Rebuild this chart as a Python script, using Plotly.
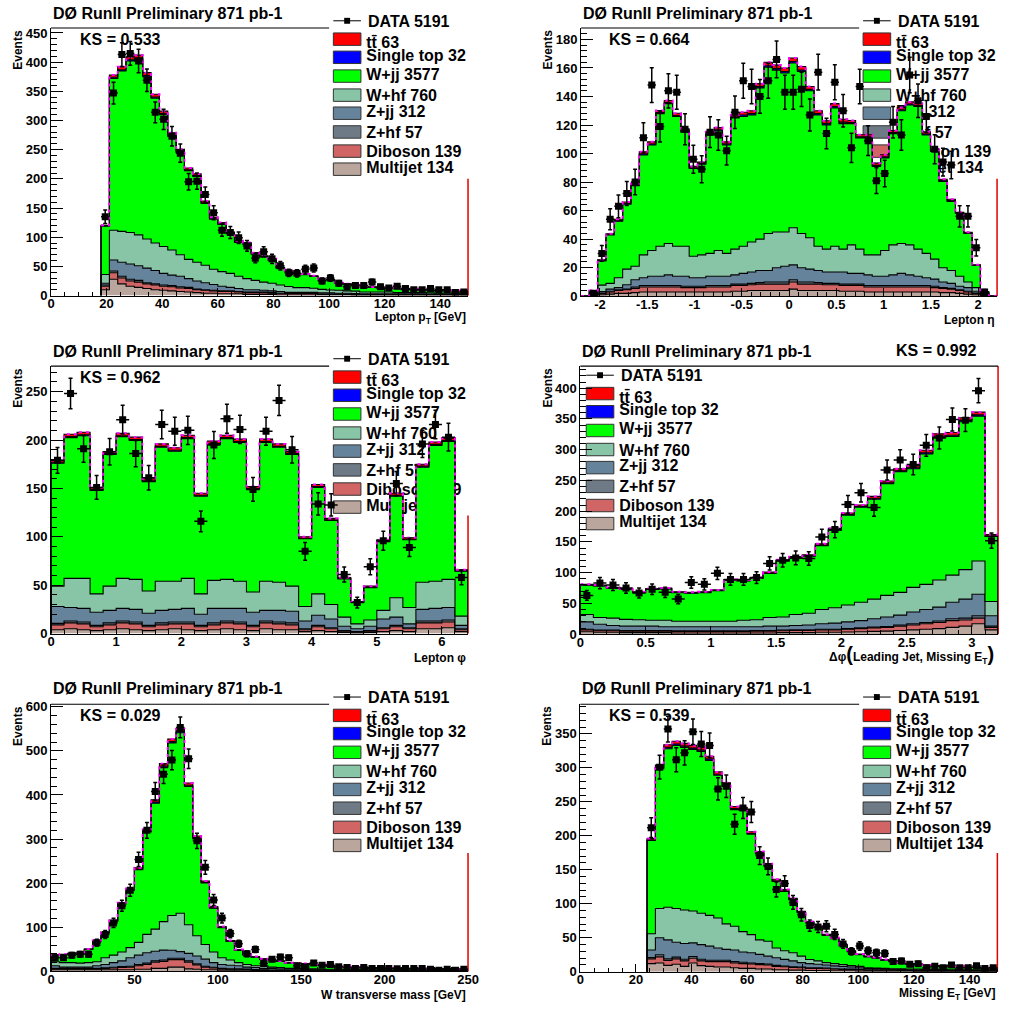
import numpy as np
import plotly.graph_objects as go

FIG_W, FIG_H = 1013, 1017
FONT = "Liberation Sans, Arial, Helvetica, sans-serif"

TITLE = "DØ RunII Preliminary 871 pb-1"
DATA_LABEL = "DATA 5191"
LEGEND_LABELS = ["tt\u0304 63", "Single top 32", "W+jj 3577", "W+hf 760",
                 "Z+jj 312", "Z+hf 57", "Diboson 139", "Multijet 134"]

# fill colours, stacking order bottom -> top
STACK_KEYS = ["multijet", "diboson", "zhf", "zjj", "whf", "wjj", "stop", "ttbar"]
COLORS = {"ttbar": "#ff0000", "stop": "#0000ff", "wjj": "#00ff00", "whf": "#88c4a6",
          "zjj": "#66839c", "zhf": "#6e7a86", "diboson": "#d16464", "multijet": "#bba69e"}
LEGEND_KEYS = ["ttbar", "stop", "wjj", "whf", "zjj", "zhf", "diboson", "multijet"]

# ---------------- Lepton pT (3 GeV bins, 18-150 GeV) ----------------
pt_data = [135, 347, 413, 415, 402, 369, 314, 302, 273, 244, 195, 196, 173, 142, 112, 108, 99, 85, 64, 75,
           63, 51, 39, 38, 45, 47, 25, 30, 21, 15, 17, 17, 23, 15, 13, 16, 12, 10, 10, 12, 10, 10, 5, 6]
pt_multijet = [10, 28, 20, 16, 14, 12, 10, 9, 8, 7, 6, 5, 4, 4, 3, 3, 3, 2, 2, 2, 2, 1, 1, 1, 1, 1, 1, 1, 1, 1,
               0.5, 0.5, 0.5, 0.5, 0.5, 0.5, 0.5, 0.5, 0.5, 0.5, 0.5, 0.5, 0.5, 0.5]
pt_diboson = [6, 11, 10, 9, 9, 8, 8, 7, 7, 6, 6, 5, 5, 4, 4, 4, 3, 3, 3, 3, 2, 2, 2, 2, 2, 2,
              1, 1, 1, 1, 1, 1, 1, 1, 1, 1, 1, 1, 1, 1, 1, 1, 1, 1]
pt_zhf = [2, 3, 3, 3, 3, 2, 2, 2, 2, 2, 2, 1, 1, 1, 1, 1, 1, 1, 1, 1, 1, 1,
          0.5, 0.5, 0.5, 0.5, 0.5, 0.5, 0.5, 0.5, 0.5, 0.5, 0.5, 0.5, 0.5, 0.5, 0.5, 0.5, 0.5, 0.5, 0.5, 0.5, 0.5, 0.5]
pt_zjj = [3, 19, 24, 26, 25, 25, 23, 20, 18, 18, 15, 14, 12, 10, 8, 6, 5, 4, 4, 3, 3, 3, 2, 2, 2, 2, 2, 2,
          1.5, 1.5, 1.5, 1, 1, 1, 1, 1, 1, 1, 0.5, 0.5, 0.5, 0.5, 0.5, 0.5]
pt_whf = [15, 51, 53, 54, 53, 50, 47, 46, 43, 37, 33, 32, 30, 26, 25, 24, 21, 19, 16, 14, 13, 11, 10, 8, 8, 7,
          6, 5, 5, 4, 4, 3, 3, 3, 3, 2, 2, 2, 2, 2, 1.5, 1.5, 1.5, 1.5]
pt_wjj = [83, 260, 275, 294, 301, 278, 248, 226, 195, 175, 152, 147, 106, 86, 81, 68, 58, 59, 45, 43,
          40, 29, 26, 22, 22, 20, 16, 17, 12, 11, 10, 9, 8, 7, 7, 7, 5, 6, 5, 4, 4, 4, 4, 4]
pt_stop = [0.5, 2, 2, 2, 2, 2, 2, 2, 2, 1.5, 1.5, 1.5, 1, 1, 1, 1, 1, 1, 1, 0.5,
           0.5, 0.5, 0.5, 0.5, 0.5, 0.5, 0.5, 0.5, 0.5, 0.5,
           0.3, 0.3, 0.3, 0.3, 0.3, 0.3, 0.3, 0.3, 0.3, 0.3, 0.3, 0.3, 0.3, 0.3]
pt_ttbar = [1, 4, 5, 5, 5, 5, 5, 4, 4, 4, 3, 3, 3, 2, 2, 2, 2, 2, 1.5, 1.5, 1.5, 1, 1, 1, 1, 1, 1,
            0.5, 0.5, 0.5, 0.5, 0.5, 0.5, 0.5, 0.5, 0.3, 0.3, 0.3, 0.3, 0.3, 0.3, 0.3, 0.3, 0.3]

# ---------------- Lepton eta (50 bins, -2.2..2.2) ----------------
eta_data = [0, 2, 30, 54, 63, 72, 80, 111, 148, 119, 144, 143, 117, 96, 89, 115, 113, 102, 129, 151,
            147, 140, 151, 166, 143, 143, 145, 127, 157, 114, 150, 130, 104, 147, 109, 81, 86, 122, 113, 155,
            137, 126, 103, 94, 92, 56, 56, 34, 3, 0]
eta_multijet = [0, 0.5, 1, 1.5, 2, 2, 2.5, 3, 3, 3, 3, 3, 3, 3, 3, 3, 3, 3, 3.5, 3.5,
                4, 4, 4, 4, 4, 5, 4, 4, 4, 4, 4, 3.5, 3.5, 3.5, 3, 3, 3, 3, 3, 3,
                3, 3, 3, 2.5, 2.5, 2, 1.5, 1, 0.5, 0]
eta_diboson = [0, 0.5, 1, 1.5, 2, 2.5, 3, 3.5, 3.5, 3.5, 3.5, 3.5, 3, 3, 3, 3.5, 3.5, 3.5, 4, 4,
               4, 4.5, 4.5, 4.5, 4.5, 5, 4.5, 4.5, 4.5, 4, 4, 4, 4, 4, 3.5, 3.5, 3.5, 3.5, 3.5, 3.5,
               3.5, 3.5, 3, 3, 2.5, 2, 1.5, 1, 0.5, 0]
eta_zhf = [0, 0, 0.3, 0.5, 0.5, 0.5, 1, 1, 1, 1, 1, 1, 1, 1, 1, 1, 1, 1, 1, 1,
           1, 1, 1.5, 1.5, 1.5, 1.5, 1.5, 1.5, 1, 1, 1, 1, 1, 1, 1, 1, 1, 1, 1, 1,
           1, 1, 1, 0.5, 0.5, 0.5, 0.5, 0.3, 0, 0]
eta_zjj = [0, 0, 1, 1.5, 1.5, 3, 5, 5.5, 6.5, 6.5, 7.5, 6.5, 7, 6, 6, 6.5, 6.5, 6.5, 6.5, 7.5,
           8, 8.5, 8, 10, 11, 10.5, 10, 9, 8.5, 8, 8, 8.5, 7.5, 7.5, 7.5, 6.5, 6.5, 7.5, 8.5, 7.5,
           6.5, 5.5, 5, 4, 3.5, 2.5, 2.5, 1.2, 0, 0]
eta_whf = [0, 2.5, 4.5, 4, 7, 11, 9.5, 16, 18, 21, 22, 21, 21, 15, 16, 16, 18, 16, 18, 19,
           21, 22, 26, 25, 24, 26, 24, 22, 17, 16, 18, 16, 20, 17, 14, 15, 18, 21, 21, 21,
           19, 17, 14, 10, 9, 7, 4, 2.5, 1, 0]
eta_wjj = [0, 0.5, 17, 34, 39.5, 45.5, 56.5, 70, 74, 93, 98, 91, 80, 61.5, 63.5, 83, 84, 76, 92, 91,
           89, 106, 116.5, 113.5, 111.5, 115.5, 113.5, 103, 92, 87, 97, 88, 85, 78, 82, 62, 65, 78, 93, 98,
           100, 83, 75.5, 60.5, 48.5, 44, 34, 15.5, 1, 0]
eta_stop = [0, 0, 0.3, 0.3, 0.5, 0.5, 0.5, 0.7, 0.7, 0.7, 0.7, 0.7, 0.7, 0.5, 0.5, 0.7, 0.7, 0.7, 0.7, 1,
            1, 1, 1, 1, 1, 1, 1, 1, 1, 1, 1, 1, 0.7, 0.7, 0.7, 0.7, 0.7, 0.7, 0.7, 0.7,
            0.7, 0.7, 0.5, 0.5, 0.5, 0.3, 0.3, 0.2, 0, 0]
eta_ttbar = [0, 0, 0.5, 0.5, 1, 1, 1, 1.5, 1.5, 1.5, 1.5, 1.5, 1.5, 1, 1, 1.5, 1.5, 1.5, 1.5, 2,
             2, 2, 2.5, 2.5, 2.5, 2.5, 2.5, 2, 2, 2, 2, 2, 1.5, 1.5, 1.5, 1.5, 1.5, 1.5, 1.5, 1.5,
             1.5, 1.5, 1, 1, 1, 0.5, 0.5, 0.3, 0, 0]

# ---------------- Lepton phi (32 bins, 0..6.4) ----------------
phi_data = [179, 248, 191, 151, 188, 221, 186, 161, 216, 209, 210, 116, 195, 222, 211, 149,
            209, 241, 190, 85, 134, 133, 61, 32, 69, 96, 155, 89, 196, 216, 203, 58]
phi_multijet = [4, 5, 4, 3, 4, 5, 4, 3, 4, 5, 4, 3, 4, 5, 4, 3, 5, 4, 4, 2, 3, 2, 1, 0.5, 1, 2, 3, 2, 5, 5, 6, 2]
phi_diboson = [5, 6, 6, 4, 5, 6, 6, 4, 5, 5, 6, 4, 5, 6, 6, 4, 6, 6, 5, 2, 4, 3, 1.5, 1, 1.5, 3, 4, 3, 6, 6, 6, 2]
phi_zhf = [1.5, 2, 2, 1.5, 2, 2, 2, 1.5, 2, 2, 2, 1.5, 2, 2, 2, 1.5, 2, 2, 2, 1, 1.5, 1, 0.5, 0.5, 0.5, 1, 1.5, 1, 2, 2, 2, 1]
phi_zjj = [17.5, 14, 14, 13.5, 13, 13, 13, 12.5, 13, 13, 14, 11.5, 15, 13, 14, 13.5,
           11, 12, 12, 8, 10.5, 9, 4.5, 3, 4.5, 9, 8.5, 4, 12, 13, 13, 3.5]
phi_whf = [21, 30, 31, 19, 25, 31, 31, 23, 30, 29, 31, 21, 29, 30, 28, 21,
           30, 29, 26, 15, 22, 15, 9.5, 5, 6.5, 9, 20, 17, 28, 28, 29, 9.5]
phi_wjj = [127, 145.5, 147.5, 107, 136, 146.5, 143.5, 113, 138.5, 134.5, 144.5, 101, 140.5, 145.5, 143.5, 106,
           143.5, 139.5, 136, 70, 110, 87, 39.5, 22.2, 33.5, 71, 105, 70, 119, 140.5, 142.5, 46.5]
phi_stop = [1, 1, 1, 1, 1, 1, 1, 1, 1, 1, 1, 1, 1, 1, 1, 1, 1, 1, 1, 0.5, 1, 0.5, 0.5, 0.3, 0.5, 0.5, 1, 0.5, 1, 1, 1, 0.5]
phi_ttbar = [2, 2.5, 2.5, 2, 2, 2.5, 2.5, 2, 2.5, 2.5, 2.5, 2, 2.5, 2.5, 2.5, 2,
             2.5, 2.5, 2, 1.5, 2, 1.5, 1, 0.5, 1, 1.5, 2, 1.5, 2, 2.5, 2.5, 1]

# ---------------- dphi(leading jet, MET) (32 bins, 0..3.2) ----------------
dphi_data = [63, 83, 80, 75, 67, 73, 68, 57, 84, 81, 99, 89, 89, 92, 115, 120,
             124, 123, 158, 170, 211, 230, 206, 267, 283, 276, 307, 319, 349, 348, 396, 152]
dphi_multijet = [4, 3, 3, 2.5, 2.5, 2.5, 2.5, 2, 2, 2, 2, 2, 2, 2, 2, 2.5,
                 2.5, 2.5, 3, 3, 3.5, 4, 4.5, 5, 6, 7, 8, 9, 11, 13, 17, 7]
dphi_diboson = [3, 2.5, 2.5, 2.5, 2.5, 2.5, 2.5, 2.5, 2.5, 2.5, 2.5, 2.5, 2.5, 3, 3, 3,
                3.5, 3.5, 4, 4, 4.5, 5, 5.5, 6, 7, 8, 9, 10, 11, 10, 9, 4]
dphi_zhf = [1, 1, 1, 1, 1, 1, 1, 1, 1, 1, 1, 1, 1, 1, 1, 1,
            1, 1, 1, 1, 1, 1.5, 1.5, 1.5, 2, 2, 2, 2.5, 3, 3, 4, 2]
dphi_zjj = [12, 9.5, 7.5, 7, 7, 7, 6, 6.5, 6.5, 6.5, 6.5, 6.5, 6.5, 6, 7, 6.5,
            7, 8, 9, 10, 11, 11.5, 13.5, 15.5, 16, 19, 21, 22.5, 27, 31, 35, 17]
dphi_whf = [12, 11, 12, 11, 10.5, 9.5, 10.5, 9, 9, 9, 9, 9, 10.5, 11.5, 14, 15,
            18, 19, 23, 25, 27.5, 30, 32, 35, 37, 40, 41, 44, 44, 48, 54, 23]
dphi_wjj = [47.5, 51.5, 48.5, 48.5, 44, 50, 51, 46.5, 45.5, 46.5, 49.5, 66.5, 64, 67, 71.8, 90.8,
            91.8, 92.8, 104, 126, 146, 154.5, 162.5, 181.5, 196, 193, 212, 232, 225.5, 240.5, 235.5, 106]
dphi_stop = [0.5, 0.5, 0.5, 0.5, 0.5, 0.5, 0.5, 0.5, 0.5, 0.5, 0.5, 0.5, 0.5, 0.5, 0.7, 0.7,
             0.7, 0.7, 1, 1, 1, 1, 1.5, 1.5, 1.5, 1.5, 2, 2, 2, 2, 2, 1]
dphi_ttbar = [1, 1, 1, 1, 1, 1, 1, 1, 1, 1, 1, 1, 1, 1, 1.5, 1.5,
              1.5, 1.5, 2, 2, 2.5, 2.5, 3, 3, 3.5, 3.5, 4, 4, 4.5, 4.5, 4.5, 2]

# ---------------- W transverse mass (5 GeV bins, 0..250) ----------------
mtw_data = [31, 31, 37, 39, 39, 65, 84, 110, 149, 184, 254, 320, 408, 447, 479, 553, 482, 296, 236, 162,
            121, 86, 63, 40, 50, 18, 28, 33, 31, 13, 10, 19, 14, 16, 11, 9, 7, 9, 7, 7,
            7, 6, 7, 7, 7, 5, 3, 5, 3, 5]
mtw_multijet = [4, 4, 4, 4, 4, 4, 4, 4, 4, 4, 5, 5, 7, 7, 10, 10, 6, 5, 4, 4,
                3, 3, 3, 3, 2, 2, 2, 2, 2, 1.5, 1.5, 1.5, 1.5, 1, 1, 1, 1, 1, 1, 1,
                1, 1, 1, 1, 1, 1, 1, 1, 1, 1]
mtw_diboson = [2, 2, 2, 2, 2, 2, 3, 4, 5, 6, 8, 11, 14, 16, 17, 17, 15, 10, 6, 4,
               3, 2, 2, 1.5, 1.5, 1.5, 1, 1, 1, 1, 1, 1, 1, 1, 1, 1, 1, 1, 1, 1,
               0.5, 0.5, 0.5, 0.5, 0.5, 0.5, 0.5, 0.5, 0.5, 0.5]
mtw_zhf = [1, 1, 1, 1, 1, 1, 1.5, 1.5, 2, 2, 2.5, 3, 3, 3, 3, 3, 3, 2.5, 2, 1.5,
           1, 1, 1, 1, 1, 0.5, 0.5, 0.5, 0.5, 0.5, 0.5, 0.5, 0.5, 0.5, 0.5, 0.5, 0.5, 0.5, 0.5, 0.5,
           0.3, 0.3, 0.3, 0.3, 0.3, 0.3, 0.3, 0.3, 0.3, 0.3]
mtw_zjj = [6, 3, 3, 3, 3, 6, 7.5, 10.5, 13, 19, 21.5, 23.5, 22, 22.5, 18, 15, 17, 17.5, 16, 10.5,
           9, 8, 7, 4.5, 4.5, 3, 3.5, 2.5, 2.5, 2, 2, 2, 1.5, 1.5, 1.5, 1.5, 1.5, 1, 1, 1,
           1.2, 1.2, 1.2, 1.2, 0.7, 0.7, 0.7, 0.7, 0.7, 0.7]
mtw_whf = [9, 10, 10, 9, 10, 9, 15, 17, 20, 23, 29, 41.5, 50, 64.5, 79, 87, 65, 46, 33, 24,
           15, 12, 7, 6, 4, 6, 3, 3, 1, 2, 1, 1, 0.5, 1, 1, 0.5, 0.5, 0.5, 0.5, 0.5,
           0.5, 0.5, 0.5, 0.5, 0.5, 0.5, 0.5, 0.5, 0.5, 0.5]
mtw_wjj = [14.2, 18.2, 20.2, 22.7, 30.2, 46.5, 56.5, 76.8, 109, 130.5, 164.5, 232, 285.5, 349, 391, 409,
           313.5, 220, 139.5, 99.5, 68, 41.8, 27.8, 21.5, 19.5, 14.5, 14.5, 13.5, 12.2, 11.2, 11.2, 9.2,
           9.2, 7.2, 6.2, 5.7, 4.7, 5.2, 4.2, 4.2, 4, 4, 3, 3, 3.5, 2.5, 2.5, 2.5, 2.5, 1.5]
mtw_stop = [0.3, 0.3, 0.3, 0.3, 0.3, 0.5, 0.5, 0.7, 1, 1, 1.5, 2, 2.5, 3, 3, 3, 2.5, 2, 1.5, 1,
            1, 0.7, 0.7, 0.5, 0.5, 0.5, 0.5, 0.5, 0.3, 0.3, 0.3, 0.3, 0.3, 0.3, 0.3, 0.3, 0.3, 0.3, 0.3, 0.3,
            0.2, 0.2, 0.2, 0.2, 0.2, 0.2, 0.2, 0.2, 0.2, 0.2]
mtw_ttbar = [0.5, 0.5, 0.5, 0.5, 0.5, 1, 1, 1.5, 2, 2.5, 3, 4, 5, 6, 6, 6, 5, 4, 3, 2.5,
             2, 1.5, 1.5, 1, 1, 1, 1, 1, 0.5, 0.5, 0.5, 0.5, 0.5, 0.5, 0.5, 0.5, 0.5, 0.5, 0.5, 0.5,
             0.3, 0.3, 0.3, 0.3, 0.3, 0.3, 0.3, 0.3, 0.3, 0.3]

# ---------------- Missing ET (3 GeV bins, 24..150 GeV) ----------------
met_data = [212, 301, 357, 312, 322, 353, 335, 333, 269, 273, 217, 241, 235, 171, 155, 121, 130, 102, 84, 68,
            66, 67, 55, 41, 30, 38, 31, 28, 27, 15, 16, 11, 12, 6, 8, 6, 10, 6, 6, 9, 5, 6]
met_multijet = [12, 13, 9.5, 11, 8, 13, 9, 8, 7, 7, 6, 5, 5, 4, 4, 3, 3, 2.5, 2.5, 2,
                2, 2, 1.5, 1.5, 1.5, 1, 1, 1, 1, 1, 1, 1, 0.5, 0.5, 0.5, 0.5, 0.5, 0.5, 0.5, 0.5, 0.5, 0.5]
met_diboson = [7, 9, 7, 8, 8, 7, 7, 7, 8, 8, 7, 7, 6.5, 6.5, 6, 5, 4.5, 4, 3.5, 3,
               3, 2.5, 2.5, 2, 2, 2, 1.5, 1.5, 1.5, 1.5, 1, 1, 1, 1, 1, 1, 1, 1, 1, 1, 1, 1]
met_zhf = [2, 3, 2.5, 2.5, 2.5, 2.5, 2.5, 2, 2, 2, 2, 2, 1.5, 1.5, 1.5, 1.5, 1, 1, 1, 1,
           1, 1, 0.5, 0.5, 0.5, 0.5, 0.5, 0.5, 0.5, 0.5, 0.5, 0.5, 0.5, 0.5, 0.5, 0.5, 0.5, 0.5, 0.5, 0.5, 0.5, 0.5]
met_zjj = [11, 25, 28, 22, 23, 20, 21.5, 20.7, 18, 16, 17, 15, 15, 13.6, 11.5, 11.2, 9.8, 8.5, 6.5, 6,
           5, 4.5, 4.2, 3.7, 3, 2.5, 2, 2, 1, 1, 1, 0.5, 1, 0.5, 0.5, 0.5, 0.5, 0.5, 0.5, 0.5, 0.5, 0.5]
met_whf = [24, 43, 48, 49.5, 49.4, 47, 46, 45.3, 44, 37.5, 35, 30, 26.6, 21.4, 22, 14.3, 12.7, 12, 9.5, 6,
           5, 3.5, 3.3, 2.8, 2, 2, 1, 0.5, 1, 0.5, 1, 1, 1, 1, 1, 1, 0.5, 0.5, 0.5, 0.5, 0.5, 0.5]
met_wjj = [137, 205.5, 233, 240, 239, 237.5, 238, 228, 210, 202.5, 171.5, 178.5, 147.9, 126.5, 111, 98,
           87, 78, 64, 54, 49.5, 40, 36.5, 28, 20.5, 17, 16, 14.5, 12, 10.5, 8.5, 7, 6.2, 5.7, 4.9, 4.9,
           4.4, 4.4, 3.4, 3.4, 2.4, 2.4]
met_stop = [1, 2, 2, 2, 2, 2, 2, 2, 1.5, 1.5, 1.5, 1.5, 1, 1, 1, 1, 1, 0.5, 0.5, 0.5,
            0.5, 0.5, 0.5, 0.5, 0.5, 0.5, 0.5, 0.5, 0.5, 0.5,
            0.3, 0.3, 0.3, 0.3, 0.3, 0.3, 0.3, 0.3, 0.3, 0.3, 0.3, 0.3]
met_ttbar = [2, 3.5, 4, 4, 4, 4, 4, 4, 3.5, 3.5, 3, 3, 2.5, 2.5, 2, 2, 2, 1.5, 1.5, 1.5,
             1, 1, 1, 1, 1, 0.5, 0.5, 0.5, 0.5, 0.5, 0.5, 0.5, 0.5, 0.5, 0.3, 0.3, 0.3, 0.3, 0.3, 0.3, 0.3, 0.3]

# Panel geometry in pixels: plot-area box (L, T, R, B), legend anchor and legend background box
panels = [
    dict(edges=np.arange(18, 150.5, 3),
         stack=[pt_multijet, pt_diboson, pt_zhf, pt_zjj, pt_whf, pt_wjj, pt_stop, pt_ttbar], data=pt_data,
         L=47.7, T=23.3, R=471, B=294.3, xr=(0, 150), yr=(0, 458.5),
         xd=20, xm=5, yd=50, ym=10, ks="KS = 0.533", ks_pos=(75, 35), title_y=8.5,
         xtitle="Lepton p<sub>T</sub> [GeV]", xt_pos=(471, 317), ev_x=14,
         leg=(334.3, 16), legbox=(330, 0, 505, 176)),
    dict(edges=np.linspace(-2.2, 2.2, 51),
         stack=[eta_multijet, eta_diboson, eta_zhf, eta_zjj, eta_whf, eta_wjj, eta_stop, eta_ttbar], data=eta_data,
         L=585.7, T=23.3, R=1008, B=295, xr=(-2.2, 2.2), yr=(0, 188),
         xd=0.5, xm=0.1, yd=20, ym=4, ks="KS = 0.664", ks_pos=(611.7, 35), title_y=8.5,
         xtitle="Lepton η", xt_pos=(1008, 319), ev_x=551.7,
         leg=(872, 16), legbox=(868, 0, 1013, 176),
         xticks=([-2, -1.5, -1, -0.5, 0, 0.5, 1, 1.5, 2], ["-2", "-1.5", "-1", "-0.5", "0", "0.5", "1", "1.5", "2"])),
    dict(edges=np.linspace(0, 6.4, 33),
         stack=[phi_multijet, phi_diboson, phi_zhf, phi_zjj, phi_whf, phi_wjj, phi_stop, phi_ttbar], data=phi_data,
         L=47.7, T=365.7, R=471, B=636.7, xr=(0, 6.4), yr=(0, 276.5),
         xd=1, xm=0.2, yd=50, ym=10, ks="KS = 0.962", ks_pos=(75, 377.3), title_y=351,
         xtitle="Lepton φ", xt_pos=(471, 661), ev_x=14,
         leg=(334.3, 358.3), legbox=(330, 338, 505, 517)),
    dict(edges=np.linspace(0, 3.2, 33),
         stack=[dphi_multijet, dphi_diboson, dphi_zhf, dphi_zjj, dphi_whf, dphi_wjj, dphi_stop, dphi_ttbar], data=dphi_data,
         L=585, T=365.7, R=1009, B=637.3, xr=(0, 3.2), yr=(0, 436),
         xd=0.5, xm=0.1, yd=50, ym=10, ks="KS = 0.992", ks_pos=(903.3, 350), title_y=350.7,
         xtitle="Δφ<span style='font-size:20px'>(</span>Leading Jet, Missing E<sub>T</sub><span style='font-size:20px'>)</span>",
         xt_pos=(1007, 658), ev_x=551.7,
         leg=(591, 375), legbox=(587, 367, 745, 537)),
    dict(edges=np.linspace(0, 250, 51),
         stack=[mtw_multijet, mtw_diboson, mtw_zhf, mtw_zjj, mtw_whf, mtw_wjj, mtw_stop, mtw_ttbar], data=mtw_data,
         L=47.7, T=708.3, R=471, B=979, xr=(0, 250), yr=(0, 605.6),
         xd=50, xm=10, yd=100, ym=20, ks="KS = 0.029", ks_pos=(75, 719.3), title_y=692,
         xtitle="W transverse mass [GeV]", xt_pos=(471, 1002.5), ev_x=14,
         leg=(334.3, 701), legbox=(330, 680, 505, 859)),
    dict(edges=np.arange(24, 150.5, 3),
         stack=[met_multijet, met_diboson, met_zhf, met_zjj, met_whf, met_wjj, met_stop, met_ttbar], data=met_data,
         L=585, T=708.3, R=1008.3, B=979.3, xr=(0, 150), yr=(0, 393.5),
         xd=20, xm=5, yd=50, ym=10, ks="KS = 0.539", ks_pos=(611.7, 719.3), title_y=692,
         xtitle="Missing E<sub>T</sub> [GeV]", xt_pos=(1008, 1002), ev_x=551.7,
         leg=(872, 701), legbox=(868, 680, 1013, 859)),
]

# legend row layout relative to the DATA row (pixels)
BOX_TOPS = [12.3, 30.7, 49.7, 69, 87.3, 106.3, 125.7, 144]
BOX_H, BOX_W, TEXT_DX = 12.6, 28, 33.4
DATA_DY = 0.7
TEXT_DY = [24, 36.7, 55.7, 77.3, 93.3, 114.5, 133.5, 150]


def fx(px):
    return px / FIG_W


def fy(py):
    return 1 - py / FIG_H


def to_data_x(p, px):
    return p["xr"][0] + (px - p["L"]) / (p["R"] - p["L"]) * (p["xr"][1] - p["xr"][0])


def to_data_y(p, py):
    return p["yr"][0] + (p["B"] - py) / (p["B"] - p["T"]) * (p["yr"][1] - p["yr"][0])


fig = go.Figure()
shapes, annotations = [], []
bold = dict(family=FONT, color="black", weight="bold")

for i, p in enumerate(panels, start=1):
    sfx = "" if i == 1 else str(i)
    xa, ya = "x" + sfx, "y" + sfx

    # frame edges: red right side, black top side; legend background sits over them
    shapes.append(dict(type="line", xref="paper", yref="paper", layer="below",
                       x0=fx(p["R"]), x1=fx(p["R"]), y0=fy(p["B"]), y1=fy(p["T"]),
                       line=dict(color="#e00000", width=1.5)))
    shapes.append(dict(type="line", xref="paper", yref="paper", layer="below",
                       x0=fx(p["L"]), x1=fx(p["R"]), y0=fy(p["T"]), y1=fy(p["T"]),
                       line=dict(color="black", width=1.2)))
    bx0, by0, bx1, by1 = p["legbox"]
    shapes.append(dict(type="rect", xref="paper", yref="paper", layer="below",
                       x0=fx(bx0), x1=fx(bx1), y0=fy(by1), y1=fy(by0),
                       fillcolor="white", line=dict(width=0)))

    # legend symbols
    lx, ly = p["leg"]
    shapes.append(dict(type="line", xref="paper", yref="paper", layer="below",
                       x0=fx(lx), x1=fx(lx + BOX_W), y0=fy(ly), y1=fy(ly),
                       line=dict(color="black", width=1)))
    shapes.append(dict(type="rect", xref="paper", yref="paper", layer="below",
                       x0=fx(lx + BOX_W / 2 - 3), x1=fx(lx + BOX_W / 2 + 3), y0=fy(ly + 3), y1=fy(ly - 3),
                       fillcolor="black", line=dict(width=0)))
    for key, top in zip(LEGEND_KEYS, BOX_TOPS):
        shapes.append(dict(type="rect", xref="paper", yref="paper", layer="below",
                           x0=fx(lx), x1=fx(lx + BOX_W), y0=fy(ly + top + BOX_H), y1=fy(ly + top),
                           fillcolor=COLORS[key], line=dict(color="#333333", width=1)))

    annotations.append(dict(x=fx(lx + TEXT_DX), y=fy(ly + DATA_DY), xref="paper", yref="paper",
                            text=DATA_LABEL, showarrow=False, xanchor="left", yanchor="middle",
                            font=dict(size=16, **bold)))

    # legend labels (drawn first so the histograms can overlap them)
    fig.add_trace(go.Scatter(
        x=[to_data_x(p, lx + TEXT_DX)] * len(LEGEND_LABELS),
        y=[to_data_y(p, ly + dy) for dy in TEXT_DY],
        mode="text", text=LEGEND_LABELS, textposition="middle right",
        textfont=dict(size=16, **bold), cliponaxis=False,
        xaxis=xa, yaxis=ya, hoverinfo="skip", showlegend=False))

    # stacked step histograms
    edges = np.asarray(p["edges"], float)
    xs = np.concatenate([[edges[0]], edges[:-1], [edges[-1], edges[-1]]])
    cum = np.zeros(len(edges) - 1)
    for j, (key, vals) in enumerate(zip(STACK_KEYS, p["stack"])):
        cum = cum + np.asarray(vals, float)
        ys = np.concatenate([[0.0], cum, [cum[-1], 0.0]])
        fig.add_trace(go.Scatter(
            x=xs, y=ys, mode="lines", line=dict(color="black", width=1.1, shape="hv"),
            fill="tozeroy" if j == 0 else "tonexty", fillcolor=COLORS[key],
            xaxis=xa, yaxis=ya, hoverinfo="skip", showlegend=False))

    # MC uncertainty hatch along the stack top
    fig.add_trace(go.Scatter(
        x=np.concatenate([edges[:-1], [edges[-1]]]), y=np.concatenate([cum, [cum[-1]]]),
        mode="lines", line=dict(color="#ff00ff", width=2, dash="3px,4px", shape="hv"),
        xaxis=xa, yaxis=ya, hoverinfo="skip", showlegend=False))

    # data points with statistical errors
    d = np.asarray(p["data"], float)
    centers = 0.5 * (edges[:-1] + edges[1:])
    keep = d > 0
    half = 0.5 * (edges[1] - edges[0])
    fig.add_trace(go.Scatter(
        x=centers[keep], y=d[keep], mode="markers",
        marker=dict(symbol="square", size=7, color="black"),
        error_y=dict(type="data", array=np.sqrt(d[keep]), color="black", thickness=1.5, width=2),
        error_x=dict(type="constant", value=half, color="black", thickness=1.5, width=0),
        xaxis=xa, yaxis=ya, hoverinfo="skip", showlegend=False))

    # axes
    xaxis = dict(domain=[fx(p["L"]), fx(p["R"])], range=list(p["xr"]), anchor=ya,
                 showline=True, linecolor="black", linewidth=1, mirror=False,
                 ticks="inside", ticklen=8, tickwidth=1, tickcolor="black",
                 tick0=0, dtick=p["xd"], showgrid=False, zeroline=False,
                 ticklabelstandoff=-4,
                 minor=dict(ticks="inside", ticklen=4, tickwidth=1, tickcolor="black",
                            tick0=0, dtick=p["xm"], showgrid=False),
                 tickfont=dict(size=13, **bold))
    if "xticks" in p:
        xaxis.update(tickmode="array", tickvals=p["xticks"][0], ticktext=p["xticks"][1])
    yaxis = dict(domain=[fy(p["B"]), fy(p["T"])], range=list(p["yr"]), anchor=xa,
                 showline=True, linecolor="black", linewidth=1, mirror=False,
                 ticks="inside", ticklen=12, tickwidth=1, tickcolor="black",
                 tick0=0, dtick=p["yd"], showgrid=False, zeroline=False,
                 minor=dict(ticks="inside", ticklen=6, tickwidth=1, tickcolor="black",
                            tick0=0, dtick=p["ym"], showgrid=False),
                 tickfont=dict(size=13, **bold))
    fig.update_layout({"xaxis" + sfx: xaxis, "yaxis" + sfx: yaxis})

    # texts
    annotations.append(dict(x=fx(p["L"]), y=fy(p["title_y"]), xref="paper", yref="paper",
                            text=TITLE, showarrow=False, xanchor="left", yanchor="middle",
                            font=dict(size=16, **bold)))
    annotations.append(dict(x=fx(p["ks_pos"][0]), y=fy(p["ks_pos"][1]), xref="paper", yref="paper",
                            text=p["ks"], showarrow=False, xanchor="left", yanchor="middle",
                            font=dict(size=16, **bold)))
    annotations.append(dict(x=fx(p["xt_pos"][0]), y=fy(p["xt_pos"][1]), xref="paper", yref="paper",
                            text=p["xtitle"], showarrow=False, xanchor="right", yanchor="middle",
                            font=dict(size=12, **bold)))
    annotations.append(dict(x=fx(p["ev_x"]), y=fy(p["T"]), xref="paper", yref="paper",
                            text="Events", textangle=-90, showarrow=False, xanchor="center", yanchor="top",
                            font=dict(size=12, **bold)))

fig.update_layout(width=FIG_W, height=FIG_H, margin=dict(l=0, r=0, t=0, b=0),
                  paper_bgcolor="white", plot_bgcolor="rgba(0,0,0,0)", showlegend=False,
                  shapes=shapes, annotations=annotations)
fig.write_html("out.html")
